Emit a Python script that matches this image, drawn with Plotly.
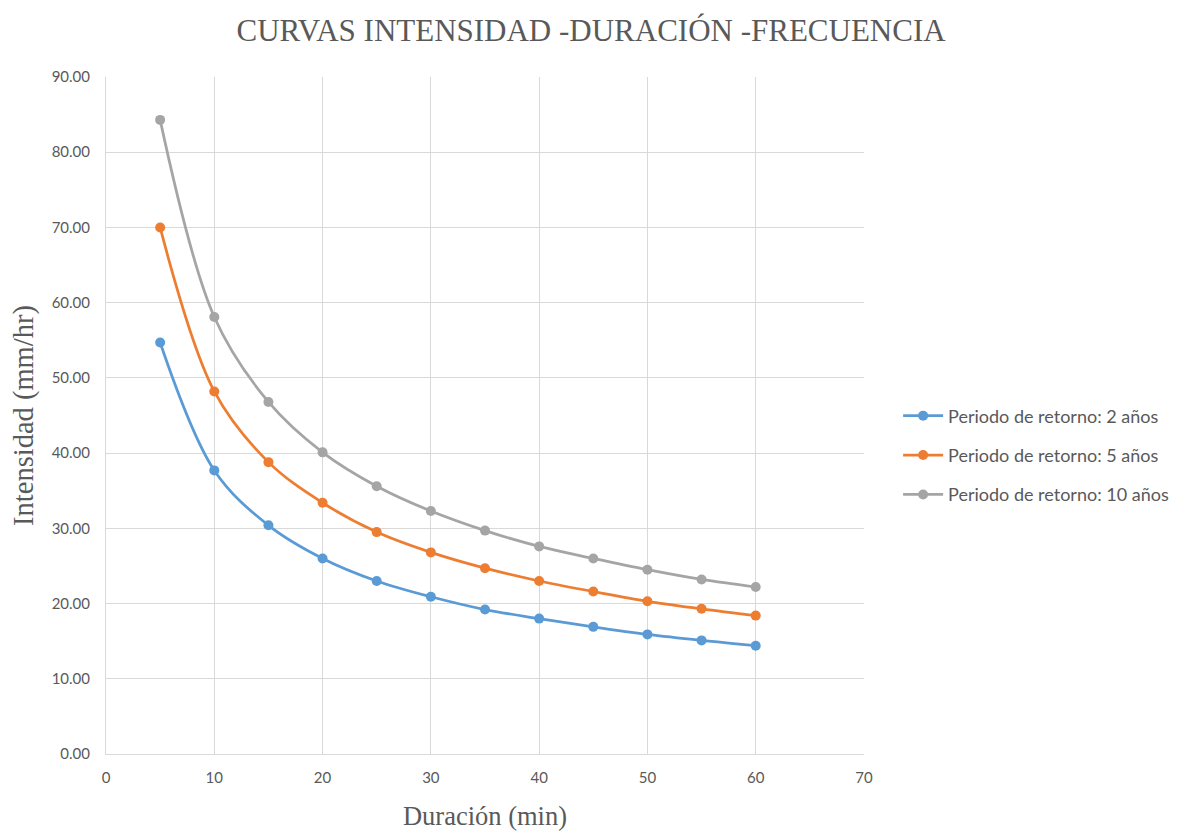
import plotly.graph_objects as go

duracion = [5, 10, 15, 20, 25, 30, 35, 40, 45, 50, 55, 60]
t2 = [54.7, 37.7, 30.4, 26.0, 23.0, 20.9, 19.2, 18.0, 16.9, 15.9, 15.1, 14.4]
t5 = [70.0, 48.2, 38.8, 33.4, 29.5, 26.8, 24.7, 23.0, 21.6, 20.3, 19.3, 18.4]
t10 = [84.3, 58.1, 46.8, 40.1, 35.6, 32.3, 29.7, 27.6, 26.0, 24.5, 23.2, 22.2]
names = ["Periodo de retorno: 2 años", "Periodo de retorno: 5 años", "Periodo de retorno: 10 años"]
colors = ["#5B9BD5", "#ED7D31", "#A5A5A5"]

fig = go.Figure()
for i, (ys, nm, c) in enumerate(zip([t2, t5, t10], names, colors)):
    fig.add_trace(go.Scatter(
        x=duracion, y=ys, name=nm, mode="lines+markers", legendgroup=f"g{i}",
        line=dict(color=c, width=2.75, shape="spline", smoothing=1.0),
        marker=dict(color=c, size=10),
    ))

serif = "Liberation Serif, Times New Roman, serif"
sans = "Lato, Open Sans, sans-serif"
fig.update_layout(
    width=1190, height=823,
    paper_bgcolor="white", plot_bgcolor="white",
    margin=dict(l=98, r=334, t=69, b=77),
    title=dict(text="CURVAS INTENSIDAD -DURACIÓN -FRECUENCIA", x=0.49, xanchor="center",
               y=0.973, yanchor="middle",
               font=dict(family=serif, size=31, color="#595959")),
    xaxis=dict(range=[0, 70], dtick=10, tick0=0, showgrid=True, gridcolor="#D9D9D9",
               gridwidth=1, zeroline=False, showline=True, linecolor="#D9D9D9", linewidth=1,
               ticks="", ticklabelstandoff=10, automargin=False,
               tickfont=dict(family=sans, size=15, color="#595959"),
               title=dict(text="Duración (min)", font=dict(family=serif, size=26.5, color="#595959"),
                          standoff=27)),
    yaxis=dict(range=[0, 90], dtick=10, tick0=0, tickformat=".2f", showgrid=True,
               gridcolor="#D9D9D9", gridwidth=1, zeroline=False, showline=True,
               linecolor="#D9D9D9", linewidth=1, ticks="", ticklabelstandoff=12,
               automargin=False,
               tickfont=dict(family=sans, size=15, color="#595959"),
               title=dict(text="Intensidad (mm/hr)", font=dict(family=serif, size=28.5, color="#595959"),
                          standoff=18)),
    legend=dict(x=1.045, xanchor="left", y=0.441, yanchor="middle",
                font=dict(family=sans, size=18, color="#595959"),
                tracegroupgap=13, itemwidth=40, bgcolor="rgba(0,0,0,0)"),
)

fig.write_html("out.html")
